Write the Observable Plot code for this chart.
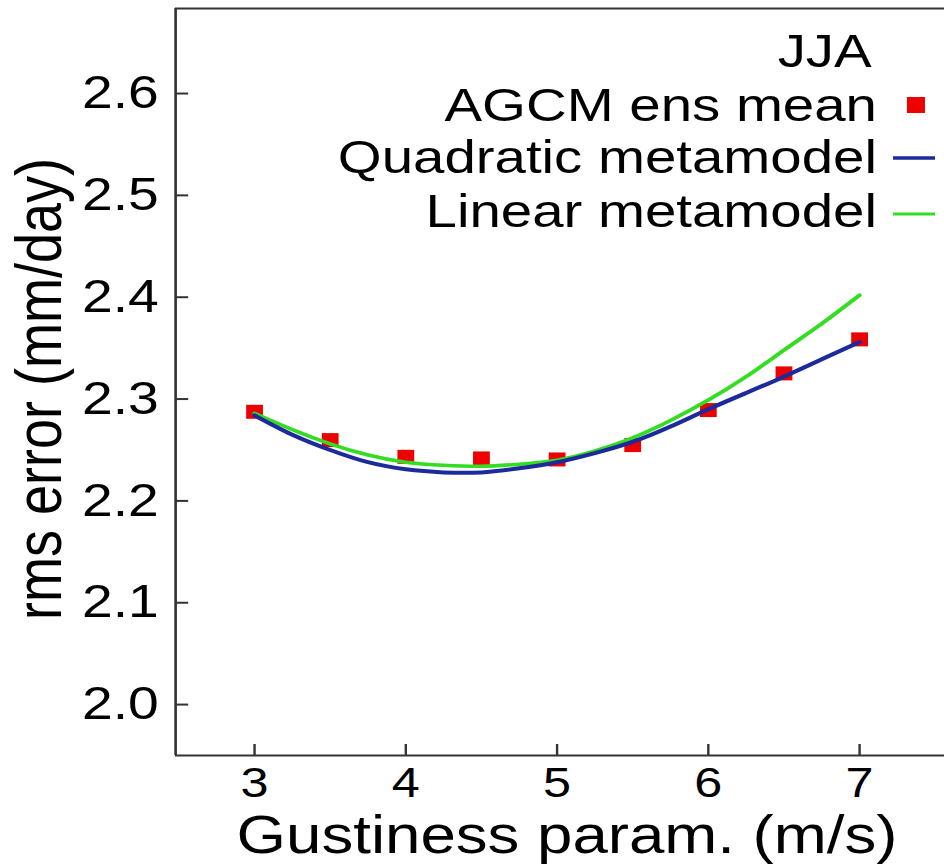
<!DOCTYPE html>
<html><head><meta charset="utf-8">
<script src="https://cdn.jsdelivr.net/npm/d3@7"></script>
<script src="https://cdn.jsdelivr.net/npm/@observablehq/plot@0.6"></script>
<style>html,body{margin:0;padding:0;background:#fff;overflow:hidden}</style>
</head><body><div id="chart"></div>
<script>
// ---- data ----
const gust = [3, 3.5, 4, 4.5, 5, 5.5, 6, 6.5, 7];
const agcmMean = [2.2875, 2.2597, 2.2433, 2.2417, 2.2407, 2.2548, 2.2892, 2.3252, 2.3586];
const fitX = [3, 3.25, 3.5, 3.75, 4, 4.25, 4.5, 4.75, 5, 5.25, 5.5, 5.75, 6, 6.25, 6.5, 6.75, 7];
const quadFit = [2.284, 2.265, 2.250, 2.238, 2.231, 2.228, 2.228, 2.232, 2.238, 2.247, 2.258, 2.273, 2.290, 2.306, 2.322, 2.339, 2.356];
const linFit = [2.286, 2.270, 2.256, 2.245, 2.238, 2.235, 2.234, 2.236, 2.240, 2.249, 2.262, 2.279, 2.299, 2.322, 2.348, 2.374, 2.402];
const xTicks = [3, 4, 5, 6, 7];
const yTicks = [2.0, 2.1, 2.2, 2.3, 2.4, 2.5, 2.6];
const xDomain = [2.478, 7.562];
const yDomain = [1.95, 2.6835];
const legendTitle = "JJA";
const legendLabels = ["AGCM ens mean", "Quadratic metamodel", "Linear metamodel"];
const xLabel = "Gustiness param. (m/s)";
const yLabel = "rms error (mm/day)";

// ---- layout ----
const W = 944, H = 867, SX = 1.2, VW = W / SX;
const FONT = "'Liberation Sans', Arial, Helvetica, sans-serif";
const RED = "#ee0000", BLUE = "#1c2a9c", GREEN = "#33dd22", AXIS = "#333";

const pts = gust.map((x, i) => ({x, y: agcmMean[i]}));
const quad = fitX.map((x, i) => ({x, y: quadFit[i]}));
const lin = fitX.map((x, i) => ({x, y: linFit[i]}));

const plot = Plot.plot({
  width: VW, height: H,
  marginLeft: 145.83, marginRight: 0, marginTop: 8, marginBottom: 112,
  style: {fontFamily: FONT, color: "#000", background: "#fff"},
  x: {domain: xDomain},
  y: {domain: yDomain},
  marks: [
    Plot.ruleX([xDomain[0]], {stroke: AXIS, strokeWidth: 2.2}),
    Plot.ruleY(yDomain, {stroke: AXIS, strokeWidth: 2.2}),
    Plot.axisX(xTicks, {anchor: "bottom", tickSize: -11, tickPadding: 23, fontSize: 42, stroke: AXIS, strokeWidth: 2, label: null, tickFormat: d => String(d)}),
    Plot.axisY(yTicks, {anchor: "left", tickSize: -11, tickPadding: 25, fontSize: 46, stroke: AXIS, strokeWidth: 2, label: null, tickFormat: d => d.toFixed(1)}),
    Plot.dot(pts, {x: "x", y: "y", symbol: "square", r: 7.9, fill: RED, stroke: null}),
    Plot.line(lin, {x: "x", y: "y", stroke: GREEN, strokeWidth: 3.6, curve: "natural"}),
    Plot.line(quad, {x: "x", y: "y", stroke: BLUE, strokeWidth: 4, curve: "natural"})
  ]
});

const svg = d3.select(plot);
svg.attr("width", W).attr("height", H)
  .attr("viewBox", `0 0 ${VW} ${H}`)
  .attr("preserveAspectRatio", "none")
  .attr("style", `width:${W}px;height:${H}px;max-width:none;display:block;background:#fff;font-family:${FONT};overflow:hidden`);

// axis titles
svg.append("text").attr("x", 472.5).attr("y", 853)
  .attr("text-anchor", "middle").attr("font-size", 53).attr("fill", "#000").text(xLabel);
svg.append("text").attr("transform", "translate(51,389) rotate(-90)")
  .attr("text-anchor", "middle").attr("font-size", 54).attr("fill", "#000").text(yLabel);

// legend
const lg = svg.append("g").attr("font-size", 47).attr("fill", "#000").attr("text-anchor", "end");
lg.append("text").attr("x", 726.4).attr("y", 67).text(legendTitle);
const rows = [121, 173, 227];
legendLabels.forEach((t, i) => lg.append("text").attr("x", 730.8).attr("y", rows[i]).text(t));
lg.append("rect").attr("x", 755.8).attr("y", 97).attr("width", 15).attr("height", 16).attr("fill", RED);
lg.append("line").attr("x1", 744.2).attr("x2", 779.2).attr("y1", 158).attr("y2", 158).attr("stroke", BLUE).attr("stroke-width", 3.6);
lg.append("line").attr("x1", 744.2).attr("x2", 779.2).attr("y1", 214).attr("y2", 214).attr("stroke", GREEN).attr("stroke-width", 3.2);

document.getElementById("chart").appendChild(plot);
</script>
</body></html>
